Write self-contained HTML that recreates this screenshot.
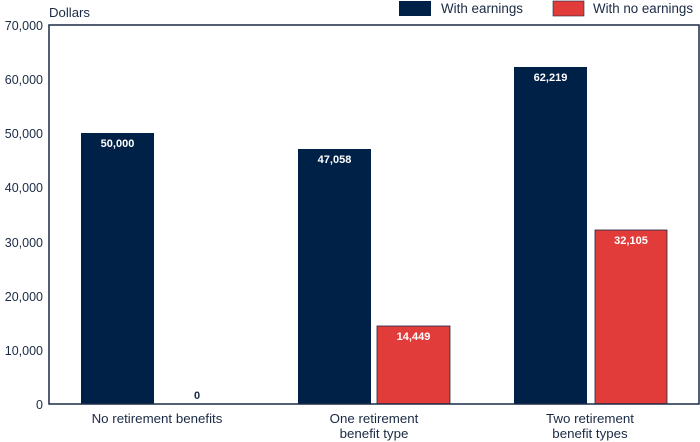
<!DOCTYPE html>
<html><head><style>
body{margin:0;background:#fff;}
svg{display:block;font-family:"Liberation Sans",Arial,sans-serif;}
</style></head><body>
<svg width="700" height="442" viewBox="0 0 700 442">
<g font-size="12.5" fill="#1a2a44">
<text x="49" y="17" textLength="41" lengthAdjust="spacingAndGlyphs">Dollars</text>
<g text-anchor="end">
<text x="43" y="30">70,000</text>
<text x="43" y="84">60,000</text>
<text x="43" y="138">50,000</text>
<text x="43" y="192">40,000</text>
<text x="43" y="247">30,000</text>
<text x="43" y="301">20,000</text>
<text x="43" y="355">10,000</text>
<text x="43" y="409">0</text>
</g>
</g>
<rect x="399" y="1" width="32" height="15" fill="#002147"/>
<text x="441" y="13" font-size="13.5" fill="#1a2a44" textLength="82" lengthAdjust="spacingAndGlyphs">With earnings</text>
<rect x="553" y="1" width="31" height="15" fill="#e23c3a" stroke="#1a2a44" stroke-width="0.6"/>
<text x="593" y="13" font-size="13.5" fill="#1a2a44" textLength="100" lengthAdjust="spacingAndGlyphs">With no earnings</text>
<rect x="81" y="133" width="73" height="271" fill="#002147"/>
<rect x="298" y="149" width="73" height="255" fill="#002147"/>
<rect x="514" y="67" width="73" height="337" fill="#002147"/>
<rect x="377" y="326" width="73" height="78" fill="#e23c3a" stroke="#1a2a44" stroke-width="0.8"/>
<rect x="595" y="230" width="72" height="174" fill="#e23c3a" stroke="#1a2a44" stroke-width="0.8"/>
<rect x="49" y="25" width="650" height="379" fill="none" stroke="#1a2a44" stroke-width="1.5"/>
<g font-size="11" font-weight="bold" fill="#fff" text-anchor="middle">
<text x="117.5" y="147">50,000</text>
<text x="334.5" y="163">47,058</text>
<text x="550.5" y="81">62,219</text>
<text x="413.5" y="340">14,449</text>
<text x="631" y="244">32,105</text>
<text x="197" y="399" fill="#1a2a44">0</text>
</g>
<g font-size="13.3" fill="#1a2a44" text-anchor="middle">
<text x="157" y="423">No retirement benefits</text>
<text x="374" y="423">One retirement</text>
<text x="374" y="438">benefit type</text>
<text x="590" y="423">Two retirement</text>
<text x="590" y="438">benefit types</text>
</g>
</svg>
</body></html>
